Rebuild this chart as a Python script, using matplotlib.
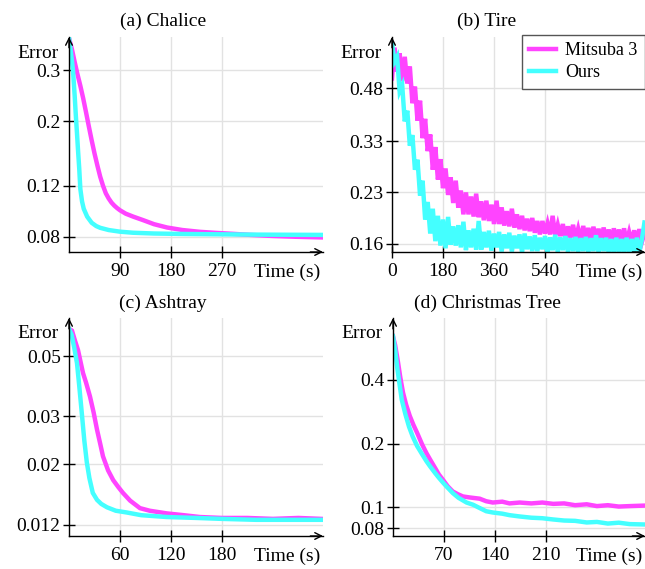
import numpy as np
import matplotlib
matplotlib.use("Agg")
import matplotlib.pyplot as plt

plt.rcParams['font.family'] = ['Liberation Serif', 'DejaVu Serif']
plt.rcParams['font.size'] = 14

MAGENTA = '#ff44ff'
CYAN = '#44ffff'

# (a) Chalice
chalice_t_m = [0, 5, 10, 15, 20, 25, 30, 35, 40, 45, 50, 55, 60, 65, 70, 75, 80, 85, 90,
               100, 113, 130, 150, 173, 200, 231, 260, 289, 320, 360, 400, 445]
chalice_m = [0.387, 0.355, 0.32, 0.29, 0.265, 0.24, 0.215, 0.192, 0.172, 0.155, 0.141,
             0.129, 0.12, 0.113, 0.1085, 0.105, 0.1025, 0.1005, 0.0988, 0.0962, 0.094,
             0.0915, 0.0885, 0.0862, 0.0845, 0.0833, 0.0826, 0.082, 0.0813, 0.0806,
             0.0801, 0.0797]
chalice_t_o = [0, 3, 5, 7, 10, 12, 14, 16, 18, 20, 23, 26, 32, 40, 48, 55, 70, 90, 113,
               150, 200, 260, 320, 380, 445]
chalice_o = [0.387, 0.35, 0.325, 0.30, 0.245, 0.21, 0.183, 0.158, 0.138, 0.117, 0.106,
             0.100, 0.094, 0.0895, 0.0872, 0.086, 0.0845, 0.0834, 0.0827, 0.0822, 0.0819,
             0.0817, 0.0815, 0.0814, 0.0813]

# (b) Tire, one sample every 9 s
tire_m = [0.515, 0.64, 0.54, 0.615, 0.505, 0.60, 0.497, 0.56, 0.432, 0.486,
          0.382, 0.44, 0.3375, 0.387, 0.308, 0.3465, 0.27, 0.317, 0.252, 0.291,
          0.237, 0.2725, 0.226, 0.256, 0.2135, 0.25, 0.2065, 0.233, 0.197, 0.23,
          0.197, 0.2235, 0.194, 0.228, 0.193, 0.216, 0.189, 0.217, 0.188, 0.211,
          0.184, 0.217, 0.184, 0.207, 0.182, 0.2015, 0.181, 0.205, 0.1795, 0.197,
          0.1775, 0.195, 0.176, 0.191, 0.175, 0.192, 0.173, 0.188, 0.171, 0.188,
          0.172, 0.185, 0.171, 0.195, 0.170, 0.183, 0.169, 0.184, 0.166, 0.181,
          0.167, 0.183, 0.166, 0.178, 0.164, 0.1815, 0.165, 0.179, 0.1635, 0.1805,
          0.165, 0.178, 0.1625, 0.1795, 0.164, 0.177, 0.1615, 0.1785, 0.163, 0.177,
          0.1615, 0.1785, 0.162, 0.174, 0.162, 0.176, 0.1605, 0.1775, 0.162, 0.1725]
tire_o = [0.66, 0.58, 0.60, 0.47, 0.49, 0.38, 0.41, 0.32, 0.345, 0.27,
          0.29, 0.225, 0.25, 0.19, 0.215, 0.172, 0.205, 0.163, 0.195, 0.158,
          0.19, 0.155, 0.1935, 0.159, 0.181, 0.158, 0.1825, 0.156, 0.187, 0.153,
          0.176, 0.156, 0.178, 0.1535, 0.188, 0.1535, 0.174, 0.156, 0.1755, 0.1525,
          0.172, 0.156, 0.174, 0.1515, 0.171, 0.155, 0.173, 0.1515, 0.1695, 0.155,
          0.171, 0.1505, 0.172, 0.154, 0.1685, 0.152, 0.170, 0.152, 0.167, 0.154,
          0.169, 0.150, 0.1675, 0.153, 0.1705, 0.151, 0.1675, 0.153, 0.169, 0.151,
          0.1665, 0.152, 0.168, 0.1505, 0.1665, 0.152, 0.168, 0.1505, 0.1665, 0.152,
          0.170, 0.1505, 0.1665, 0.152, 0.167, 0.1495, 0.1655, 0.151, 0.167, 0.1495,
          0.1655, 0.151, 0.167, 0.1495, 0.1655, 0.151, 0.167, 0.151, 0.165, 0.186]
tire_t = np.linspace(0, 891, len(tire_m))

# (c) Ashtray
ashtray_t_m = [0, 3.5, 7, 10.6, 14, 16.5, 20, 24.7, 29, 33, 37, 40, 46, 52, 58, 63.5, 72,
               83.5, 95, 115, 135, 154, 180, 210, 240, 270, 297]
ashtray_m = [0.063, 0.062, 0.057, 0.0526, 0.047, 0.0433, 0.040, 0.0355, 0.031, 0.0268,
             0.0236, 0.0214, 0.019, 0.0175, 0.0165, 0.0157, 0.0147, 0.0138, 0.0135,
             0.0132, 0.013, 0.0128, 0.0127, 0.0127, 0.0126, 0.0127, 0.0126]
ashtray_t_o = [0, 3, 6, 9.4, 12, 15, 18, 21, 24, 28, 33, 38, 44.7, 55, 68, 85, 115, 150,
               180, 220, 260, 297]
ashtray_o = [0.063, 0.060, 0.054, 0.0471, 0.039, 0.031, 0.0245, 0.0203, 0.0178, 0.0157,
             0.0148, 0.0143, 0.0139, 0.0135, 0.0133, 0.013, 0.0128, 0.0127, 0.0126,
             0.0125, 0.0125, 0.0125]

# (d) Christmas Tree
tree_t_m = [0, 3, 7, 10, 13.7, 18, 23, 28, 33, 40, 46, 51, 58, 63, 68.6, 75, 82, 89, 96,
            105, 119, 128, 137, 150, 160, 174, 190, 205, 220, 235, 250, 266, 280, 295,
            310, 325, 343]
tree_m = [0.64, 0.58, 0.48, 0.41, 0.348, 0.305, 0.27, 0.245, 0.225, 0.198, 0.18, 0.168,
          0.153, 0.143, 0.135, 0.126, 0.119, 0.1155, 0.1127, 0.1115, 0.110, 0.107,
          0.1055, 0.1065, 0.1045, 0.1055, 0.1045, 0.1055, 0.104, 0.1045, 0.1025,
          0.1035, 0.1015, 0.1025, 0.101, 0.1015, 0.102]
tree_t_o = [0, 3, 6, 9, 12, 17, 22, 27, 33, 40, 46, 51, 58, 63, 68.6, 75, 82, 90, 101,
            110, 120, 128, 137, 150, 160, 174, 190, 205, 220, 235, 250, 266, 280, 295,
            310, 325, 343]
tree_o = [0.64, 0.55, 0.45, 0.38, 0.322, 0.275, 0.24, 0.216, 0.195, 0.178, 0.165, 0.156,
          0.145, 0.138, 0.131, 0.124, 0.117, 0.111, 0.1055, 0.103, 0.099, 0.096, 0.0947,
          0.0935, 0.092, 0.0907, 0.0895, 0.089, 0.0878, 0.0868, 0.0865, 0.085, 0.0855,
          0.084, 0.0848, 0.0835, 0.0832]

panels = [
    dict(title='(a) Chalice', rect=(69, 37, 323, 252), xlim=448, ylim=(0.071, 0.39),
         xticks=[90, 180, 270], yticks=[0.08, 0.12, 0.2, 0.3],
         ylabels=['0.08', '0.12', '0.2', '0.3'],
         m=(chalice_t_m, chalice_m), o=(chalice_t_o, chalice_o), title_x=163, title_y=21),
    dict(title='(b) Tire', rect=(392, 37, 645, 252), xlim=893, ylim=(0.151, 0.69),
         xticks=[0, 180, 360, 540], yticks=[0.16, 0.23, 0.33, 0.48],
         ylabels=['0.16', '0.23', '0.33', '0.48'],
         m=(tire_t, tire_m), o=(tire_t, tire_o), title_x=487, title_y=21),
    dict(title='(c) Ashtray', rect=(69, 318, 323, 536), xlim=299, ylim=(0.0109, 0.069),
         xticks=[60, 120, 180], yticks=[0.012, 0.02, 0.03, 0.05],
         ylabels=['0.012', '0.02', '0.03', '0.05'],
         m=(ashtray_t_m, ashtray_m), o=(ashtray_t_o, ashtray_o), title_x=163, title_y=303),
    dict(title='(d) Christmas Tree', rect=(393, 318, 645, 536), xlim=346,
         ylim=(0.0734, 0.78), xticks=[70, 140, 210], yticks=[0.08, 0.1, 0.2, 0.4],
         ylabels=['0.08', '0.1', '0.2', '0.4'],
         m=(tree_t_m, tree_m), o=(tree_t_o, tree_o), title_x=487, title_y=303),
]

W, H = 645, 569
fig = plt.figure(figsize=(W / 100, H / 100), dpi=100)

for i, p in enumerate(panels):
    x0, y0, x1, y1 = p['rect']
    ax = fig.add_axes([x0 / W, 1 - y1 / H, (x1 - x0) / W, (y1 - y0) / H])
    ax.set_yscale('log')
    ax.plot(p['m'][0], p['m'][1], color=MAGENTA, lw=3.2, label='Mitsuba 3',
            solid_joinstyle='miter')
    ax.plot(p['o'][0], p['o'][1], color=CYAN, lw=3.2, label='Ours',
            solid_joinstyle='miter')
    ax.set_xlim(0, p['xlim'])
    ax.set_ylim(*p['ylim'])
    ax.minorticks_off()
    ax.set_xticks(p['xticks'], [str(v) for v in p['xticks']])
    ax.set_yticks(p['yticks'], p['ylabels'])
    ax.grid(True, color='#e2e2e2', lw=1)
    ax.set_axisbelow(True)
    for s in ['top', 'right']:
        ax.spines[s].set_visible(False)
    for s in ['left', 'bottom']:
        ax.spines[s].set_linewidth(1)
    ax.tick_params(direction='inout', length=8, width=1, pad=2)
    ax.tick_params(axis='x', pad=4)

    # arrow heads on the axes
    ax.annotate('', xy=(1, 0), xytext=(0.95, 0), xycoords='axes fraction',
                arrowprops=dict(arrowstyle='->', lw=1, color='k',
                                shrinkA=0, shrinkB=0, mutation_scale=12))
    ax.annotate('', xy=(0, 1), xytext=(0, 0.95), xycoords='axes fraction',
                arrowprops=dict(arrowstyle='->', lw=1, color='k',
                                shrinkA=0, shrinkB=0, mutation_scale=12))

    ax.annotate('Error', xy=(0, 1), xycoords='axes fraction', xytext=(-10, -16),
                textcoords='offset pixels', ha='right', va='center')
    ax.annotate('Time (s)', xy=(1, 0), xycoords='axes fraction', xytext=(-3, -20),
                textcoords='offset pixels', ha='right', va='center')

    fig.text(p['title_x'] / W, 1 - p['title_y'] / H, p['title'], ha='center', va='center')

    if i == 1:
        ax.legend(loc='upper right', bbox_to_anchor=(1.0, 1.01), borderaxespad=0,
                  fancybox=False, framealpha=1, edgecolor='#555555', fontsize=13,
                  handlelength=1.5, handletextpad=0.5, labelspacing=0.3)

fig.savefig('out.png', dpi=100)
